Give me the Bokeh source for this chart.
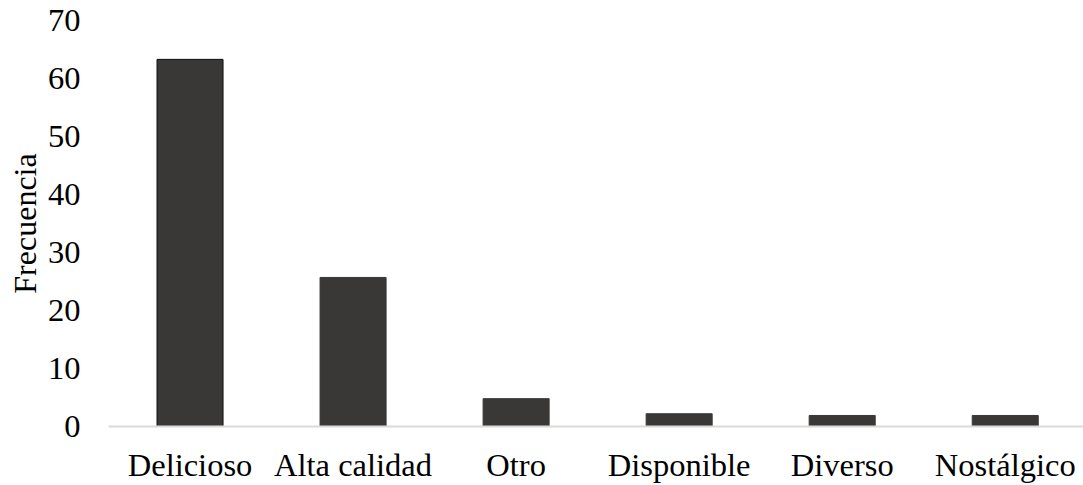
from bokeh.plotting import figure
from bokeh.models import ColumnDataSource, Range1d, FixedTicker
from bokeh.embed import file_html
from bokeh.resources import INLINE

categories = ["Delicioso", "Alta calidad", "Otro", "Disponible", "Diverso", "Nostálgico"]
values = [63.3, 25.7, 4.8, 2.2, 1.9, 1.9]
y_ticks = [0, 10, 20, 30, 40, 50, 60, 70]

FONT = "Liberation Serif"
FILL = "#3a3836"

src = ColumnDataSource(dict(
    x=list(range(len(categories))),
    top=values,
    line=["#111111"] + [FILL] * (len(categories) - 1),
))

p = figure(width=1083, height=485, output_backend="svg", toolbar_location=None,
           x_range=Range1d(-0.5, 5.48), y_range=Range1d(0, 70),
           min_border_left=108, min_border_right=0, min_border_top=20, min_border_bottom=57)
p.outline_line_color = None
p.background_fill_color = "white"
p.border_fill_color = "white"

p.vbar(x="x", top="top", width=0.405, source=src, fill_color=FILL, line_color="line", line_width=1)

p.xgrid.grid_line_color = None
p.ygrid.grid_line_color = None

p.xaxis.ticker = FixedTicker(ticks=list(range(len(categories))))
p.xaxis.major_label_overrides = {i: c for i, c in enumerate(categories)}
p.xaxis.axis_line_color = "#d9d9d9"
p.xaxis.axis_line_width = 2
p.xaxis.major_tick_line_color = None
p.xaxis.minor_tick_line_color = None
p.xaxis.major_label_text_font = FONT
p.xaxis.major_label_text_font_size = "32.5px"
p.xaxis.major_label_text_color = "black"
p.xaxis.major_label_standoff = 14

p.yaxis.ticker = FixedTicker(ticks=y_ticks)
p.yaxis.axis_line_color = None
p.yaxis.major_tick_line_color = None
p.yaxis.minor_tick_line_color = None
p.yaxis.major_label_text_font = FONT
p.yaxis.major_label_text_font_size = "32.5px"
p.yaxis.major_label_text_color = "black"
p.yaxis.major_label_standoff = 22
p.yaxis.axis_label = "Frecuencia"
p.yaxis.axis_label_text_font = FONT
p.yaxis.axis_label_text_font_size = "32px"
p.yaxis.axis_label_text_font_style = "normal"
p.yaxis.axis_label_text_color = "black"
p.yaxis.axis_label_standoff = 2

open("out.html", "w").write(file_html(p, INLINE))
